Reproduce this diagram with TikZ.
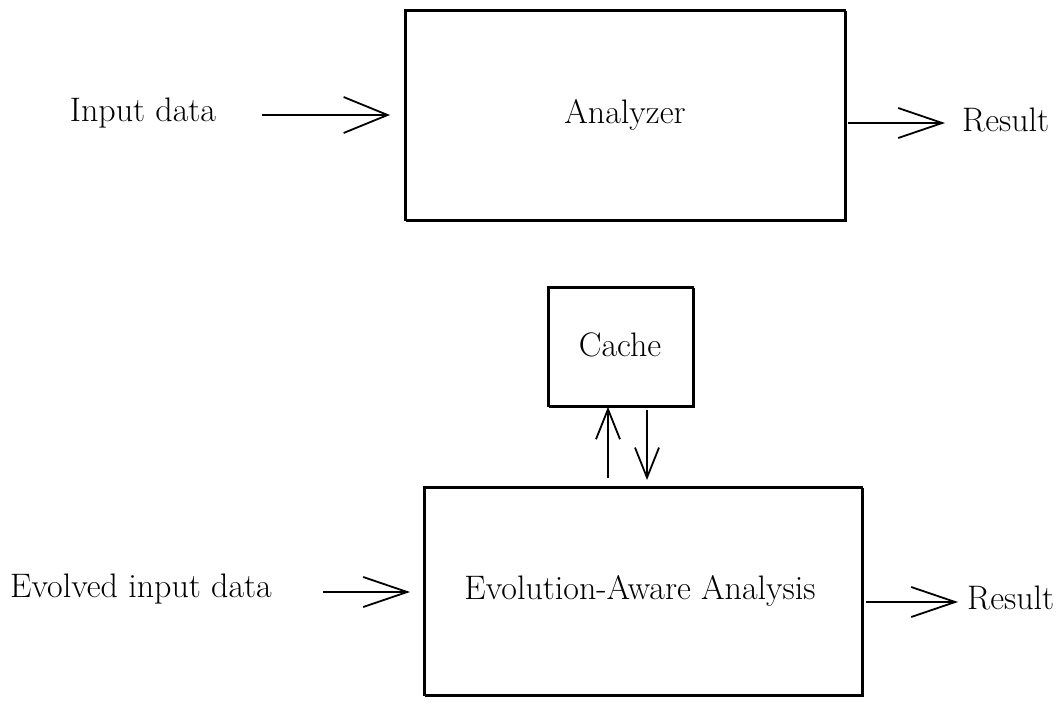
\documentclass[tikz,border=0pt]{standalone}
\usetikzlibrary{arrows.meta}
\begin{document}
\begin{tikzpicture}[x=1pt,y=-1pt,
  lbl/.style={font=\fontsize{34}{40}\selectfont, inner sep=0pt},
  sbox/.style={draw, line width=1.6pt, inner sep=0pt,
    postaction={draw, line width=0.7pt, transform canvas={shift={(1.2pt,-1.2pt)}}}},
  conn/.style={line width=1.8pt, -{Straight Barb[length=44pt,width=36pt,line width=1.8pt]}},
  sconn/.style={line width=1.8pt, -{Straight Barb[length=44pt,width=30pt,line width=1.8pt]}},
  vconn/.style={line width=1.8pt, -{Straight Barb[length=30pt,width=24pt,line width=1.8pt]}}
]
\useasboundingbox (0,0) rectangle (1061,702);
% top
\node[sbox, minimum width=440pt, minimum height=210pt] (ana) at (625,115) {};
\node[lbl] (anat) at (625,115) {Analyzer};
\node[lbl] (in1) at (143,113) {Input data};
\node[lbl, anchor=west] (res1) at (962,120) {Result};
\coordinate (a1s) at (262,115);
\coordinate (a1e) at (390,115);
\coordinate (r1s) at (848,123);
\coordinate (r1e) at (945,123);
\draw[conn] (a1s) -- (a1e);
\draw[sconn] (r1s) -- (r1e);
% bottom
\node[sbox, minimum width=145pt, minimum height=119pt] (cache) at (620.5,346.5) {};
\node[lbl] (cachet) at (620,345) {Cache};
\node[sbox, minimum width=438pt, minimum height=208pt] (eva) at (643,591) {};
\node[lbl] (evat) at (640,591) {Evolution-Aware Analysis};
\node[lbl] (in2) at (141,589) {Evolved input data};
\node[lbl, anchor=west] (res2) at (967,598) {Result};
\coordinate (a2s) at (323,592);
\coordinate (a2e) at (410,592);
\coordinate (r2s) at (866,602);
\coordinate (r2e) at (958,602);
\draw[sconn] (a2s) -- (a2e);
\draw[sconn] (r2s) -- (r2e);
\coordinate (u1) at (608,478);
\draw[vconn] (u1) -- (cache.south -| u1);
\coordinate (d1) at (647,410);
\draw[vconn] (d1) -- (647,480);
\end{tikzpicture}
\end{document}
